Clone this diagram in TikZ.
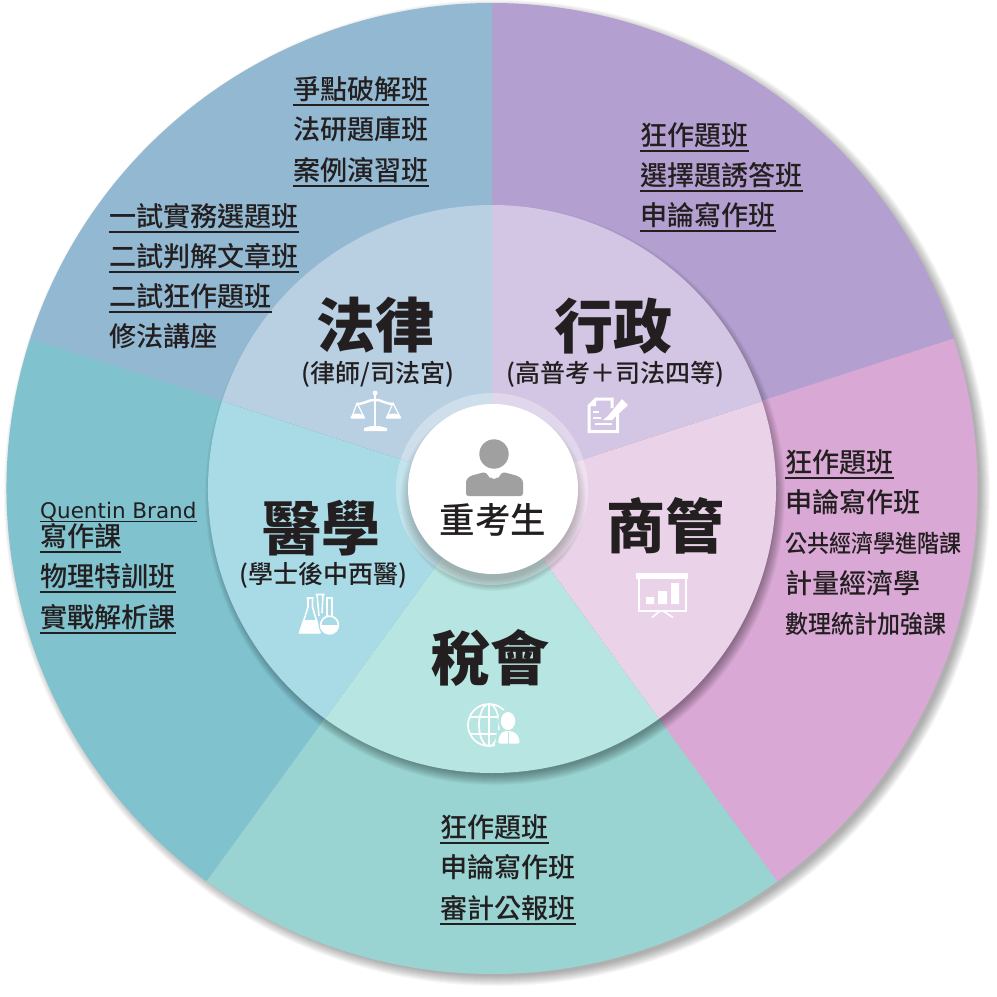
\documentclass[tikz,border=0pt]{standalone}
\usepackage{fontspec}
\setmainfont{Noto Sans CJK TC Medium}
\newfontfamily\heavyfont{Noto Sans CJK TC Black}
\newfontfamily\latinfont{DejaVu Sans}
\definecolor{ink}{HTML}{231F20}
\definecolor{outerlaw}{HTML}{93B9D2}
\definecolor{outeradm}{HTML}{B4A0D0}
\definecolor{outercom}{HTML}{D9A8D5}
\definecolor{outertax}{HTML}{99D4D2}
\definecolor{outermed}{HTML}{80C2CE}
\definecolor{innerlaw}{HTML}{B9D0E3}
\definecolor{inneradm}{HTML}{D3C6E4}
\definecolor{innercom}{HTML}{EAD3E9}
\definecolor{innertax}{HTML}{B7E5E1}
\definecolor{innermed}{HTML}{A9DBE6}
\definecolor{persongray}{HTML}{A0A0A0}
\newcommand{\ulx}[1]{\setbox0\hbox{#1}\rlap{\copy0}\rule[-6.4pt]{\wd0}{2.2pt}}
\newcommand{\ulq}[1]{\setbox0\hbox{#1}\rlap{\copy0}\rule[-3.6pt]{\wd0}{1.6pt}}
\newcommand{\sector}[3]{\fill[#1] (0,0) -- (#2:#3pt) arc[start angle=#2,end angle=#2+72,radius=#3pt] -- cycle;}
\tikzset{
  item/.style={anchor=base west,inner sep=0pt,yshift=-0.6pt,text=ink,font=\fontsize{27.1}{27}\selectfont},
  title/.style={anchor=center,inner sep=0pt,text=ink,font=\fontsize{59}{59}\heavyfont},
  subtitle/.style={anchor=center,inner sep=0pt,text=ink,font=\fontsize{25}{25}\selectfont},
  icon/.style={draw=white,line width=2.4pt,line join=round},
}
\begin{document}
\begin{tikzpicture}[x=1pt,y=-1pt]
\useasboundingbox (0,0) rectangle (997,997);
\fill[white] (0,0) rectangle (997,997);
% outer shadow
\foreach \d in {-3,...,7}{\fill[black,opacity=.03] (497,493) circle[radius={486pt+\d*1pt}];}
\begin{scope}[shift={(492,488.5)}]
\sector{outeradm}{18}{485.5}
\sector{outerlaw}{90}{485.5}
\sector{outermed}{162}{485.5}
\sector{outertax}{234}{485.5}
\sector{outercom}{306}{485.5}
\end{scope}
\begin{scope}[shift={(492,489)}]
\foreach \d in {-4,...,6}{\fill[black,opacity=.035] (3pt,-6pt) circle[radius={284pt+\d*1pt}];}
\sector{inneradm}{18}{284}
\sector{innerlaw}{90}{284}
\sector{innermed}{162}{284}
\sector{innertax}{234}{284}
\sector{innercom}{306}{284}
\foreach \d in {-4,...,8}{\fill[black,opacity=.03] (1pt,-9pt) circle[radius={85pt+\d*1pt}];}
\fill[white,opacity=.3] (0,0) circle[radius=96pt];
\end{scope}
\node[circle,fill=white,minimum size=170pt,inner sep=0pt] (hub) at (493,489) {};
% person icon
\fill[persongray] (494,454) circle[radius=14.7];
\fill[persongray,rounded corners=2.5pt] (466,496) -- (466,480) -- (470,476) -- (485,472) -- (494,480) -- (503,472) -- (518,476) -- (523,480) -- (523,496) -- cycle;
\fill[white] (485,471) -- (490,478) -- (494,474) -- (498,478) -- (503,471) -- cycle;
\node[anchor=center,inner sep=0pt,text=ink,font=\fontsize{35.5}{36}\selectfont] (hubtext) at (493,520) {重考生};
% titles
\node[title] (tlaw) at (375.5,325) {法律};
\node[title] (tadm) at (613.5,326) {行政};
\node[title] (tcom) at (665,526) {商管};
\node[title] (tmed) at (321,528) {醫學};
\node[title] (ttax) at (490,658) {稅會};
\node[subtitle] (slaw) at (378,374) {(律師/司法宮)};
\node[subtitle] (sadm) at (615.5,374) {(高普考＋司法四等)};
\node[subtitle] (smed) at (323,575) {(學士後中西醫)};
% law list
\node[item] (a1) at (293,99) {\ulx{爭點破解班}};
\node[item] (a2) at (293,139) {法研題庫班};
\node[item] (a3) at (293,180) {\ulx{案例演習班}};
\node[item] (a4) at (109,226) {\ulx{一試實務選題班}};
\node[item] (a5) at (109,266) {\ulx{二試判解文章班}};
\node[item] (a6) at (109,306) {\ulx{二試狂作題班}};
\node[item] (a7) at (109,346) {修法講座};
% admin list
\node[item] (b1) at (640,145) {\ulx{狂作題班}};
\node[item] (b2) at (640,185) {\ulx{選擇題誘答班}};
\node[item] (b3) at (640,225) {\ulx{申論寫作班}};
% commerce list
\node[item] (c1) at (785,472) {\ulx{狂作題班}};
\node[item] (c2) at (785,512) {申論寫作班};
\node[item,font=\fontsize{24}{24}\selectfont\addfontfeature{FakeStretch=0.92}] (c3) at (785,552) {公共經濟學進階課};
\node[item] (c4) at (785,593) {計量經濟學};
\node[item,font=\fontsize{25}{25}\selectfont\addfontfeature{FakeStretch=0.92}] (c5) at (785,633) {數理統計加強課};
% tax list
\node[item] (d1) at (440,837) {\ulx{狂作題班}};
\node[item] (d2) at (440,877) {申論寫作班};
\node[item] (d3) at (440,918) {\ulx{審計公報班}};
% med list
\node[item,font=\fontsize{21.5}{21}\latinfont] (e1) at (40,518) {\ulq{Quentin Brand}};
\node[item] (e2) at (40,546) {\ulx{寫作課}};
\node[item] (e3) at (40,586) {\ulx{物理特訓班}};
\node[item] (e4) at (40,627) {\ulx{實戰解析課}};
% scales icon
\draw[icon] (375,394) -- (375,428);
\fill[white] (364,431) -- (387,431) -- (387,428) -- (379,426) -- (371,426) -- (364,428) -- cycle;
\fill[white] (375,393) circle[radius=2.5];
\draw[icon] (357,404) .. controls (365,404) and (370,399) .. (375,400) .. controls (380,399) and (385,404) .. (393,404);
\draw[white,line width=1.2pt,line join=round] (357,403) -- (351.5,418) -- (364.5,418) -- cycle (393,403) -- (386.5,418) -- (400.5,418) -- cycle;
\fill[white] (350.5,418) arc[start angle=180,end angle=0,x radius=7,y radius=-4.5] -- cycle;
\fill[white] (386,418) arc[start angle=180,end angle=0,x radius=7.5,y radius=-4.5] -- cycle;
% note icon
\draw[white,line width=3pt,miter limit=2] (612,408) -- (612,399) -- (596,399) -- (589,406) -- (589,431.5) -- (617.5,431.5) -- (617.5,412);
\fill[white] (596,397.5) -- (596,406) -- (588,406) -- cycle;
\fill[white] (608,416) -- (622,399) -- (628,405) -- (612,420) -- (603,420) -- cycle;
\draw[white,line width=2pt] (593,412) -- (599,412) (593,418) -- (601,418) (595,424) -- (612,424);
% board icon
\fill[white] (636,573) rectangle (688,579);
\draw[white,line width=2pt] (639,579) -- (639,610.5) -- (685.5,610.5) -- (685.5,579);
\fill[white] (646,597) rectangle (654,604) (658,591) rectangle (667,604) (671,583) rectangle (679,604);
\draw[white,line width=1.6pt] (660,611) -- (652,617.5) (663,611) -- (673,617.5);
% globe icon
\draw[white,line width=1.7pt] (489,725) circle[radius=21] (489,725) ellipse[x radius=10,y radius=21] (489,704) -- (489,746) (470,717) -- (508,717) (470,734) -- (508,734);
\fill[innertax] (508,721) ellipse[x radius=10,y radius=12];
\fill[innertax] (495,746) -- (497,730) -- (522,728) -- (523,746) -- cycle;
\fill[white] (508,721) ellipse[x radius=7.2,y radius=9];
\fill[white,rounded corners=2pt] (498,743.5) -- (499.5,735) -- (504,731) -- (512,731) -- (518,735) -- (520,743.5) -- cycle;
\draw[innertax,line width=.8pt] (508,732) -- (508,744);
% flask icon
\draw[white,line width=1.6pt,line join=round] (306.5,598) -- (313.5,598) (308,598) -- (308,607) -- (300,632.5) -- (320,632.5) -- (312.5,607) -- (312.5,598);
\fill[white] (303,620) -- (317,620) -- (320.5,633.5) -- (298.5,633.5) -- cycle;
\draw[white,line width=1.6pt,line join=round] (315.5,594.5) -- (324.5,594.5) (317,594.5) -- (319,616) (323,594.5) -- (322,613);
\fill[innermed] (329.5,625) circle[radius=11];
\draw[white,line width=1.6pt] (325.5,598) -- (333,598) (327,598) -- (327,616.5) (332,598) -- (332,616.5);
\draw[white,line width=1.6pt] (329.5,625) circle[radius=8.9];
\fill[white] (320.6,625) arc[start angle=180,end angle=360,x radius=8.9,y radius=-8.9] -- cycle;
\end{tikzpicture}
\end{document}
